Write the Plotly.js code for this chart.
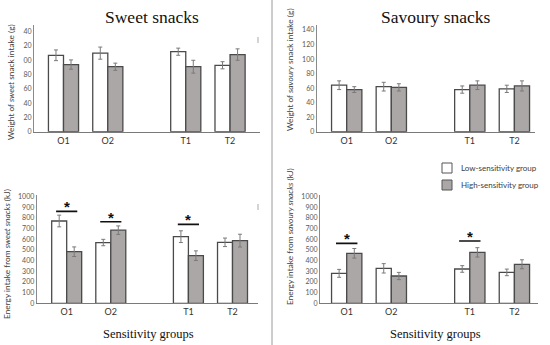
<!DOCTYPE html>
<html>
<head>
<meta charset="utf-8">
<script src="https://cdn.plot.ly/plotly-3.0.1.min.js"></script>
<style>html,body{margin:0;padding:0;background:#fff;}#chart{width:550px;height:345px;}</style>
</head>
<body>
<div id="chart"></div>
<script>
// ---- data ----
const categories = ['O1', 'O2', 'T1', 'T2'];
const catPos = [0, 1, 2.76, 3.76];

const sweetWeightLow = [107, 110, 112, 93];
const sweetWeightLowErr = [7.5, 8.5, 5, 5];
const sweetWeightHigh = [94, 91, 91, 108];
const sweetWeightHighErr = [6.5, 5, 9, 8];

const savouryWeightLow = [64, 62, 58, 59];
const savouryWeightLowErr = [6, 6, 5, 5];
const savouryWeightHigh = [58, 61, 64, 63];
const savouryWeightHighErr = [4, 5, 6, 7];

const sweetEnergyLow = [772, 570, 625, 572];
const sweetEnergyLowErr = [55, 30, 55, 40];
const sweetEnergyHigh = [484, 686, 447, 588];
const sweetEnergyHighErr = [45, 40, 45, 60];

const savouryEnergyLow = [281, 328, 322, 290];
const savouryEnergyLowErr = [37, 44, 31, 31];
const savouryEnergyHigh = [469, 256, 478, 366];
const savouryEnergyHighErr = [45, 34, 44, 42];

// significance bars
const sigSweetCats = ['O1', 'O2', 'T1'];
const sigSweetLevels = [862, 765, 740];
const sigSavouryCats = ['O1', 'T1'];
const sigSavouryLevels = [562, 584];

const weightTicks = [0, 20, 40, 60, 80, 100, 120, 140];
const sweetWeightTickText = ['0', '20', '40', '60', '80', '00', '20', '40'];
const savouryWeightTickText = ['0', '20', '40', '60', '80', '100', '120', '140'];
const energyTicks = [0, 100, 200, 300, 400, 500, 600, 700, 800, 900, 1000];

const seriesNames = ['Low-sensitivity group', 'High-sensitivity group'];

// ---- styles ----
const lowColor = '#ffffff';
const highColor = '#aba7a6';
const outline = '#4a4a4a';
const errColor = '#7a7a7a';

function barPair(low, lowErr, high, highErr, ax) {
  const mk = (vals, errs, fill, name) => ({
    type: 'bar', x: catPos, y: vals, name: name, showlegend: false,
    xaxis: 'x' + ax, yaxis: 'y' + ax,
    marker: {color: fill, line: {color: outline, width: 1.3}},
    error_y: {type: 'data', array: errs, visible: true, color: errColor, thickness: 1, width: 2}
  });
  return [mk(low, lowErr, lowColor, seriesNames[0]), mk(high, highErr, highColor, seriesNames[1])];
}

function sigTraces(cats, levels, ax) {
  return cats.map((c, i) => {
    const p = catPos[categories.indexOf(c)];
    return {type: 'scatter', mode: 'lines', x: [p - 0.24, p + 0.24], y: [levels[i], levels[i]],
      xaxis: 'x' + ax, yaxis: 'y' + ax, line: {color: '#111', width: 1.6}, showlegend: false, hoverinfo: 'skip'};
  });
}
function sigStars(cats, levels, ax) {
  return cats.map((c, i) => ({
    x: catPos[categories.indexOf(c)], y: levels[i], xref: 'x' + ax, yref: 'y' + ax,
    text: '<b>*</b>', showarrow: false, xanchor: 'center', yanchor: 'bottom', yshift: -6,
    font: {family: 'Liberation Sans, Arial', size: 15, color: '#111'}
  }));
}

const data = [
  ...barPair(sweetWeightLow, sweetWeightLowErr, sweetWeightHigh, sweetWeightHighErr, ''),
  ...barPair(savouryWeightLow, savouryWeightLowErr, savouryWeightHigh, savouryWeightHighErr, '2'),
  ...barPair(sweetEnergyLow, sweetEnergyLowErr, sweetEnergyHigh, sweetEnergyHighErr, '3'),
  ...barPair(savouryEnergyLow, savouryEnergyLowErr, savouryEnergyHigh, savouryEnergyHighErr, '4'),
  ...sigTraces(sigSweetCats, sigSweetLevels, '3'),
  ...sigTraces(sigSavouryCats, sigSavouryLevels, '4')
];

const tickFont = {family: 'Lato, Open Sans, sans-serif', size: 7, color: '#595959'};
const catFont = {family: 'Lato, Open Sans, sans-serif', size: 9, color: '#333'};

function xAx(domain, range, anchor) {
  return {domain: domain, range: range, anchor: anchor, tickvals: catPos, ticktext: categories,
    showgrid: false, zeroline: false, showline: true, linecolor: '#7a7a7a', linewidth: 1,
    ticks: '', tickfont: catFont, fixedrange: true};
}
function yAx(domain, range, tickvals, ticktext, anchor) {
  return {domain: domain, range: range, anchor: anchor, tickvals: tickvals, ticktext: ticktext || tickvals.map(String),
    showgrid: false, zeroline: false, showline: true, linecolor: '#8a8a8a', linewidth: 1,
    ticks: '', tickfont: tickFont, fixedrange: true};
}

const P = (px) => 1 - px / 345;
const X = (px) => px / 550;

const axTitleFont = {family: 'Lato, Open Sans, sans-serif', size: 8.3, color: '#404040'};
const serif = {family: 'Liberation Serif, Times New Roman, serif', size: 17.5, color: '#111'};
const serifSmall = {family: 'Liberation Serif, Times New Roman, serif', size: 12.5, color: '#111'};

function paperNote(xpx, ypx, text, font, extra) {
  return Object.assign({x: X(xpx), y: P(ypx), xref: 'paper', yref: 'paper', text: text, showarrow: false,
    xanchor: 'center', yanchor: 'middle', font: font}, extra || {});
}

const annotations = [
  paperNote(152, 17, 'Sweet snacks', serif),
  paperNote(436, 17, 'Savoury snacks', serif),
  paperNote(148, 334, 'Sensitivity groups', serifSmall),
  paperNote(435, 334, 'Sensitivity groups', serifSmall),
  paperNote(11, 82, 'Weight of <i>sweet</i> snack intake (g)', axTitleFont, {textangle: -90}),
  paperNote(290, 70, 'Weight of <i>savoury</i> snack intake (g)', axTitleFont, {textangle: -90}),
  paperNote(7, 254, 'Energy intake from <i>sweet snacks</i> (kJ)', axTitleFont, {textangle: -90}),
  paperNote(290, 237, 'Energy intake from <i>savoury snacks</i> (kJ)', axTitleFont, {textangle: -90}),
  paperNote(459, 168, seriesNames[0], {family: 'Lato, Open Sans, sans-serif', size: 8, color: '#404040'}, {xanchor: 'left'}),
  paperNote(459, 185, seriesNames[1], {family: 'Lato, Open Sans, sans-serif', size: 8, color: '#404040'}, {xanchor: 'left'}),
  ...sigStars(sigSweetCats, sigSweetLevels, '3'),
  ...sigStars(sigSavouryCats, sigSavouryLevels, '4')
];

const shapes = [
  {type: 'line', xref: 'paper', yref: 'paper', x0: X(272), x1: X(272), y0: 0, y1: 1, line: {color: '#9a9a9a', width: 1}},
  {type: 'line', xref: 'paper', yref: 'paper', x0: X(258), x1: X(258), y0: P(37), y1: P(43), line: {color: '#aaa', width: 1}},
  {type: 'line', xref: 'paper', yref: 'paper', x0: X(258), x1: X(258), y0: P(204), y1: P(210), line: {color: '#aaa', width: 1}},
  {type: 'rect', xref: 'paper', yref: 'paper', x0: X(442), x1: X(452), y0: P(163), y1: P(173), fillcolor: lowColor, line: {color: '#555', width: 1}},
  {type: 'rect', xref: 'paper', yref: 'paper', x0: X(442), x1: X(452), y0: P(180), y1: P(190), fillcolor: highColor, line: {color: '#555', width: 1}}
];

const layout = {
  width: 550, height: 345,
  margin: {l: 0, r: 0, t: 0, b: 0},
  paper_bgcolor: '#fff', plot_bgcolor: 'rgba(0,0,0,0)',
  showlegend: false,
  barmode: 'group', bargap: 0.32, bargroupgap: 0,
  xaxis: xAx([X(34), X(260)], [-0.666, 4.436], 'y'),
  yaxis: yAx([P(131.7), P(25)], [0, 149.4], weightTicks, sweetWeightTickText, 'x'),
  xaxis2: xAx([X(316.7), X(535)], [-0.673, 4.222], 'y2'),
  yaxis2: yAx([P(131.7), P(25)], [0, 146.9], weightTicks, savouryWeightTickText, 'x2'),
  xaxis3: xAx([X(36.7), X(258)], [-0.68, 4.338], 'y3'),
  yaxis3: yAx([P(303.3), P(195)], [0, 1016], energyTicks, null, 'x3'),
  xaxis4: xAx([X(320), X(538)], [-0.599, 4.289], 'y4'),
  yaxis4: yAx([P(303.3), P(195)], [0, 1016], energyTicks, null, 'x4'),
  annotations: annotations,
  shapes: shapes
};

Plotly.newPlot('chart', data, layout, {displayModeBar: false, staticPlot: true});
</script>
</body>
</html>
